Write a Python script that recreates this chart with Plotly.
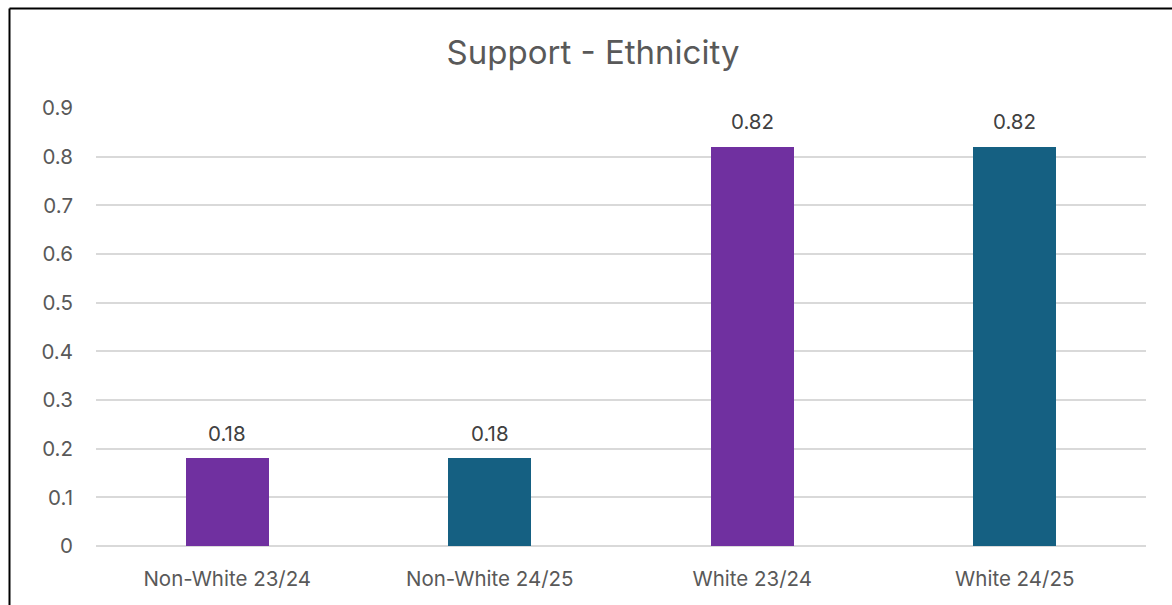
import plotly.graph_objects as go

categories = ["Non-White 23/24", "Non-White 24/25", "White 23/24", "White 24/25"]
values = [0.18, 0.18, 0.82, 0.82]
bar_colors = ["#7030A0", "#156082", "#7030A0", "#156082"]
tick_vals = [0, 0.1, 0.2, 0.3, 0.4, 0.5, 0.6, 0.7, 0.8, 0.9]
tick_text = ["0", "0.1", "0.2", "0.3", "0.4", "0.5", "0.6", "0.7", "0.8", "0.9"]

FONT = "Inter, Open Sans, sans-serif"
W, H = 1172, 605
ML, MR, MT, MB = 96, 26, 108, 59

fig = go.Figure(
    go.Bar(
        x=categories,
        y=values,
        marker=dict(color=bar_colors, line=dict(width=0)),
        width=0.316,
        hoverinfo="x+y",
    )
)

# value labels above each bar
for cat, v in zip(categories, values):
    fig.add_annotation(x=cat, y=v, text=f"{v:.2f}", showarrow=False,
                       yanchor="middle", yshift=25,
                       font=dict(family=FONT, size=20.5, color="#404040"))

# frame around the chart (left and top edges visible)
pw, ph = W - ML - MR, H - MT - MB
x0 = (9.5 - ML) / pw
y1 = (H - MB - 8.5) / ph
fig.add_shape(type="line", xref="paper", yref="paper", x0=x0, x1=x0, y0=y1, y1=-0.5,
              line=dict(color="black", width=2))
fig.add_shape(type="line", xref="paper", yref="paper", x0=x0, x1=1.5, y0=y1, y1=y1,
              line=dict(color="black", width=2))

fig.update_layout(
    width=W, height=H,
    margin=dict(l=ML, r=MR, t=MT, b=MB),
    paper_bgcolor="white", plot_bgcolor="white",
    showlegend=False,
    bargap=0,
    title=dict(text="Support - Ethnicity", x=0.506, xanchor="center", y=0.913, yanchor="middle",
               font=dict(family=FONT, size=33, color="#595959")),
    xaxis=dict(showgrid=False, showline=False, ticks="", ticklabelstandoff=18,
               tickfont=dict(family=FONT, size=20.5, color="#595959")),
    yaxis=dict(range=[0, 0.9], tickvals=tick_vals, ticktext=tick_text,
               showgrid=True, gridcolor="#D9D9D9", gridwidth=2, zeroline=True,
               zerolinecolor="#D9D9D9", zerolinewidth=2, showline=False, ticks="",
               ticklabelstandoff=22,
               tickfont=dict(family=FONT, size=20.5, color="#595959")),
)

fig.write_html("out.html")
